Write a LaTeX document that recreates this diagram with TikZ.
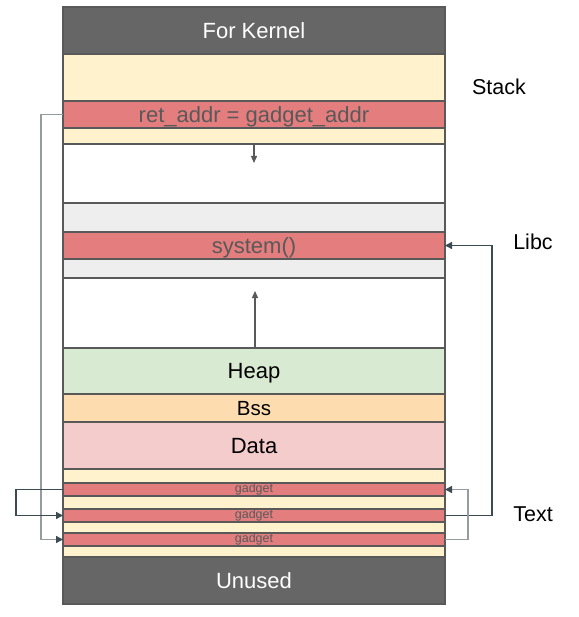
\documentclass[tikz,border=0pt]{standalone}
\usepackage{fontspec}
\setmainfont{Liberation Sans}
\usetikzlibrary{arrows.meta}
\definecolor{kern}{HTML}{666666}
\definecolor{ylw}{HTML}{FFF2CC}
\definecolor{redb}{HTML}{E47E7E}
\definecolor{grayb}{HTML}{EEEEEE}
\definecolor{heapc}{HTML}{D9EAD3}
\definecolor{bssc}{HTML}{FDDDB0}
\definecolor{datac}{HTML}{F4CCCC}
\definecolor{edge}{HTML}{595959}
\definecolor{txtg}{HTML}{595959}
\definecolor{conlight}{HTML}{959BA1}
\definecolor{condark}{HTML}{3C4A52}
\tikzset{
  band/.style={draw=edge, line width=1.2pt, minimum width=382pt, inner sep=0pt, outer sep=0pt, anchor=north, text height=15.8pt, text depth=0pt, font=\fontsize{22}{25}\selectfont},
  small/.style={font=\fontsize{12.5}{13}\selectfont, text=txtg, text height=6.8pt},
  sidelabel/.style={font=\fontsize{21.5}{24}\selectfont, text=black},
  darktip/.style={-{Triangle[length=7pt,width=7pt,color=condark,fill=condark]}},
  edgetip/.style={-{Triangle[length=7pt,width=6pt,color=edge,fill=edge]}},
  conn/.style={darktip, line width=1.5pt},
}
\begin{document}
\begin{tikzpicture}[x=1pt,y=-1pt]
\useasboundingbox (0,0) rectangle (578,617);
% bands
\node[band, fill=kern, text=white, minimum height=47pt] (kernel) at (254,7) {For Kernel};
\node[band, fill=ylw, minimum height=47pt] (stackA) at (254,54) {};
\node[band, fill=redb, text=txtg, minimum height=27pt] (ret) at (254,101) {ret\_addr = gadget\_addr};
\node[band, fill=ylw, minimum height=16pt] (stackB) at (254,128) {};
\node[band, fill=white, minimum height=59pt] (white1) at (254,144) {};
\node[band, fill=grayb, minimum height=29pt] (grayA) at (254,203) {};
\node[band, fill=redb, text=txtg, minimum height=27pt] (sys) at (254,232) {system()};
\node[band, fill=grayb, minimum height=19pt] (grayB) at (254,259) {};
\node[band, fill=white, minimum height=70pt] (white2) at (254,278) {};
\node[band, fill=heapc, minimum height=46pt] (heap) at (254,348) {Heap};
\node[band, fill=bssc, minimum height=28pt, font=\fontsize{20.5}{22}\selectfont, text height=14.7pt] (bss) at (254,394) {Bss};
\node[band, fill=datac, minimum height=47pt] (data) at (254,422) {Data};
\node[band, fill=ylw, minimum height=14pt] (t1) at (254,469) {};
\node[band, fill=redb, minimum height=13pt, small] (g1) at (254,483) {gadget};
\node[band, fill=ylw, minimum height=13pt] (t2) at (254,496) {};
\node[band, fill=redb, minimum height=13pt, small] (g2) at (254,509) {gadget};
\node[band, fill=ylw, minimum height=11pt] (t3) at (254,522) {};
\node[band, fill=redb, minimum height=13pt, small] (g3) at (254,533) {gadget};
\node[band, fill=ylw, minimum height=11pt] (t4) at (254,546) {};
\node[band, fill=kern, text=white, minimum height=47pt] (unused) at (254,557) {Unused};
% side labels
\node[sidelabel] (lstack) at (499,87) {Stack};
\node[sidelabel] (llibc) at (533,242) {Libc};
\node[sidelabel] (ltext) at (533,514) {Text};
% growth arrows
\coordinate (downend) at (254,163);
\coordinate (upend) at (255,291);
\draw[edgetip, line width=1.3pt, draw=edge] (stackB.south) -- (downend);
\draw[edgetip, line width=1.3pt, draw=edge] (heap.north -| upend) -- (upend);
% connectors
\coordinate (lx) at (41,0);
\coordinate (lxx) at (16,0);
\coordinate (rx) at (492,0);
\coordinate (rxx) at (468,0);
\draw[conn, draw=conlight] (ret.west) -- (ret.west -| lx) |- (g3.west);
\draw[conn, draw=condark] (g1.west) -- (g1.west -| lxx) |- (g2.west);
\draw[conn, draw=condark] (g2.east) -- (g2.east -| rx) |- (sys.east);
\draw[conn, draw=conlight] (g3.east) -- (g3.east -| rxx) |- (g1.east);
\end{tikzpicture}
\end{document}
